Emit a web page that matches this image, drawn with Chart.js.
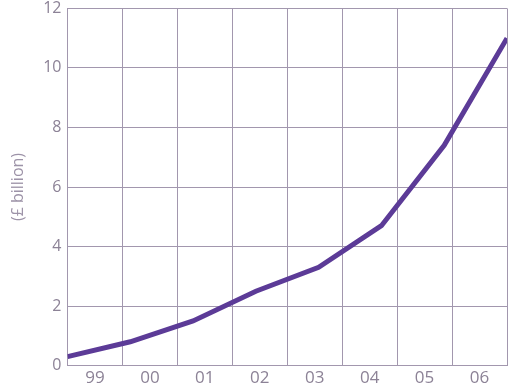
<!DOCTYPE html>
<html>
<head>
<meta charset="utf-8">
<script src="https://cdn.jsdelivr.net/npm/chart.js@4/dist/chart.umd.min.js"></script>
<style>
  html, body { margin: 0; padding: 0; background: #fff; }
  #wrap { width: 513px; height: 390px; }
</style>
</head>
<body>
<div id="wrap"><canvas id="c" width="513" height="390"></canvas></div>
<script>
// Years shown along the bottom axis
const years = ['99', '00', '01', '02', '03', '04', '05', '06'];
// Value per year, £ billion
const values = [0.3, 0.8, 1.5, 2.5, 3.3, 4.7, 7.4, 11.0];
// Vertical axis
const yMin = 0, yMax = 12, yStep = 2;
const yTitle = '(£ billion)';

const gridColor = '#a297ae';
const tickColor = '#8c8296';

const points = values.map((v, i) => ({ x: i, y: v }));

new Chart(document.getElementById('c'), {
  type: 'line',
  data: {
    labels: years,
    datasets: [{
      data: points,
      xAxisID: 'xLine',
      borderColor: '#5c3b97',
      borderWidth: 5,
      pointRadius: 0,
      tension: 0,
      fill: false
    }]
  },
  options: {
    responsive: false,
    animation: false,
    layout: { padding: { top: 0, right: 6, left: 9, bottom: 0 } },
    plugins: { legend: { display: false }, tooltip: { enabled: false } },
    scales: {
      x: {
        type: 'category',
        labels: years,
        offset: true,
        grid: { offset: true, color: gridColor, lineWidth: 1, drawTicks: false },
        border: { color: gridColor, width: 1 },
        ticks: { color: tickColor, font: { family: 'Open Sans', size: 17 }, padding: 2 }
      },
      xLine: {
        type: 'linear',
        min: 0,
        max: years.length - 1,
        display: false
      },
      y: {
        min: yMin,
        max: yMax,
        ticks: { stepSize: yStep, color: tickColor, font: { family: 'Open Sans', size: 16, lineHeight: 0.3 }, padding: 6 },
        grid: { color: gridColor, lineWidth: 1, drawTicks: false },
        border: { color: gridColor, width: 1 },
        title: {
          display: true,
          text: yTitle,
          color: '#9d93a8',
          font: { family: 'Open Sans', size: 16 },
          padding: { top: 0, bottom: 9 }
        }
      }
    }
  }
});
</script>
</body>
</html>
